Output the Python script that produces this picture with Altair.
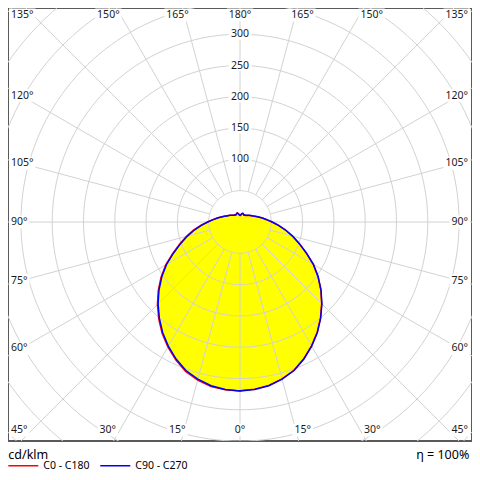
import math
import altair as alt
import pandas as pd

# ---------------- data (cd/klm) ----------------
gamma = list(range(0, 181, 5))          # 0 = straight down, 180 = straight up
c0 = [269.5, 268, 265, 259.5, 252, 241, 228.5, 215, 200, 184.5, 168.5, 152, 135,
      116.5, 100.5, 86.5, 73.5, 61.5, 51, 42.5, 36, 30.5, 26, 22.5, 20, 18, 16,
      14.5, 13.5, 13, 12.5, 13, 14, 14, 12.5, 10.5, 10]
c180 = [270, 269, 267, 261.5, 254, 243, 230.5, 217, 202, 186.5, 170.5, 154, 137,
        118.5, 102.5, 88.5, 75.5, 63, 52, 43.5, 37, 31.5, 27, 23.5, 21, 19, 17,
        15.5, 14.5, 14, 13.5, 14, 15, 15, 13.5, 11.5, 10]
c90 = [270, 268.5, 265.5, 260, 252.5, 241.5, 229, 215.5, 200.5, 185, 169, 152.5, 135.5,
       117, 101, 87, 74, 62, 51.5, 43, 36.5, 31, 26.5, 23, 20.5, 18.5, 16.5,
       15, 14, 13.5, 13, 13.5, 14.5, 14.5, 13, 11, 10]
c270 = [270, 268.5, 265.5, 260, 252.5, 241.5, 229, 215.5, 200.5, 185, 169, 152.5, 135.5,
        117, 101, 87, 74, 62, 51.5, 43, 36.5, 31, 26.5, 23, 20.5, 18.5, 16.5,
        15, 14, 13.5, 13, 13.5, 14.5, 14.5, 13, 11, 10]

series_names = ["C0 - C180", "C90 - C270"]
series_colors = ["#ff0000", "#0000ff"]
ring_labels = [100, 150, 200, 250, 300]
grid_rings = [50, 100, 150, 200, 250, 300, 350, 400, 450, 500]
spoke_angles = list(range(0, 360, 15))
label_gammas = [0, 15, 30, 45, 60, 75, 90, 105, 120, 135, 150, 165, 180]
unit_text = "cd/klm"
eta_text = "η = 100%"

# ---------------- layout ----------------
W, H = 464, 433            # plot area (frame)
PX0, PY0 = 8, 8            # page offset of plot area
CXP, CYP = 240, 222        # polar centre, page px
K = 0.626                  # px per cd/klm
CX, CY = CXP - PX0, CYP - PY0
XDOM = [-CX / K, (W - CX) / K]
YDOM = [-(H - CY) / K, CY / K]
FONT = "Noto Sans"
GRID = "#d2d2d2"

xs = alt.Scale(domain=XDOM, nice=False, zero=False)
ys = alt.Scale(domain=YDOM, nice=False, zero=False)
X = alt.X("x:Q", scale=xs, axis=None)
Y = alt.Y("y:Q", scale=ys, axis=None)

# curves
rows = []
for name, right, left in [(series_names[0], c0, c180), (series_names[1], c90, c270)]:
    idx = 0
    for g, r in reversed(list(zip(gamma, left))):
        rows.append({"series": name, "ang": -g, "r": r, "idx": idx}); idx += 1
    for g, r in zip(gamma, right):
        rows.append({"series": name, "ang": g, "r": r, "idx": idx}); idx += 1
curve_df = pd.DataFrame(rows)

# grid
ring_rows = []
for rv in grid_rings:
    for i, a in enumerate(range(0, 361, 2)):
        ring_rows.append({"ring": rv, "ang": a, "r": rv, "idx": i})
ring_df = pd.DataFrame(ring_rows)
spoke_rows = []
for a in spoke_angles:
    spoke_rows.append({"sp": a, "ang": a, "r": 50, "idx": 0})
    spoke_rows.append({"sp": a, "ang": a, "r": 800, "idx": 1})
spoke_df = pd.DataFrame(spoke_rows)

def polar(ch):
    return ch.transform_calculate(
        x="datum.r * sin(datum.ang * PI / 180)",
        y="-datum.r * cos(datum.ang * PI / 180)",
    )

def box_path(x0, x1, h):
    return f"M{x0:.1f},{-h:.1f}L{x1:.1f},{-h:.1f}L{x1:.1f},{h:.1f}L{x0:.1f},{h:.1f}Z"

def txt_w(t):
    return sum(6.0 if c.isdigit() else 4.5 for c in t)

# angle labels (positions follow the spokes, kept inside the frame)
lab = []
for g in label_gammas:
    sides = [0] if g in (0, 180) else [-1, 1]
    for s in sides:
        t = f"{g}°"
        w = txt_w(t)
        if g in (0, 180):
            px, py, al = CXP, (430 if g == 0 else 15), "center"
        elif g < 45 or g > 135:
            b = math.radians(g if g < 90 else 180 - g)
            dy = 208 if g < 90 else 207
            dx = dy * math.tan(b) + 14 * math.sin(2 * b)
            px, py, al = CXP + s * dx, (430 if g < 90 else 15), "center"
        else:
            if g == 45:
                py = 430
            elif g == 135:
                py = 15
            else:
                py = CYP + 219 / math.tan(math.radians(g))
            px, al = (11, "left") if s < 0 else (468, "right")
        if al == "center":
            bp = box_path(-w / 2 - 2, w / 2 + 2, 6.5)
        elif al == "left":
            bp = box_path(-2, w + 2, 6.5)
        else:
            bp = box_path(-w - 2, 2, 6.5)
        lab.append({"t": t, "x": (px - CXP) / K, "y": (CYP - py) / K, "al": al, "box": bp})
for v in ring_labels:
    lab.append({"t": str(v), "x": 0.0, "y": float(v), "al": "center",
                "box": box_path(-11.5, 11.5, 5.5)})
lab_df = pd.DataFrame(lab)

fill = polar(alt.Chart(curve_df)).mark_line(
    fill="#ffff00", strokeOpacity=0, strokeWidth=0
).encode(x=X, y=Y, detail="series:N", order="idx:Q")

rings = polar(alt.Chart(ring_df)).mark_line(
    color=GRID, strokeWidth=1, clip=True
).encode(x=X, y=Y, detail="ring:N", order="idx:Q")

spokes = polar(alt.Chart(spoke_df)).mark_line(
    color=GRID, strokeWidth=1, clip=True
).encode(x=X, y=Y, detail="sp:N", order="idx:Q")

boxes = alt.Chart(lab_df).mark_point(
    filled=True, color="white", opacity=1, size=4, strokeWidth=0
).encode(x=X, y=Y, shape=alt.Shape("box:N", scale=None))

def text_layer(al):
    return alt.Chart(lab_df).transform_filter(f"datum.al == '{al}'").mark_text(
        align=al, baseline="middle", font=FONT, fontSize=10.5, color="#1a1a1a"
    ).encode(x=X, y=Y, text="t:N")

lines = polar(alt.Chart(curve_df)).mark_line(strokeWidth=1.5).encode(
    x=X, y=Y, order="idx:Q",
    color=alt.Color(
        "series:N",
        scale=alt.Scale(domain=series_names, range=series_colors),
        legend=alt.Legend(
            orient="none", legendX=-0.7, legendY=441.5, direction="horizontal",
            title=None, symbolType="stroke", symbolSize=900, symbolStrokeWidth=1.5,
            labelFont=FONT, labelFontSize=10.5, labelColor="#000000", labelOffset=4,
            columnPadding=7, padding=0,
        ),
    ),
)

foot_df = pd.DataFrame({"t": [unit_text, eta_text], "al": ["left", "right"]})
unit = alt.Chart(foot_df).transform_filter("datum.al == 'left'").mark_text(
    align="left", baseline="alphabetic", font=FONT, fontSize=12.5, color="#000"
).encode(x=alt.value(0.3), y=alt.value(450.5), text="t:N")
eta = alt.Chart(foot_df).transform_filter("datum.al == 'right'").mark_text(
    align="right", baseline="alphabetic", font=FONT, fontSize=12.5, color="#000"
).encode(x=alt.value(461.3), y=alt.value(450.5), text="t:N")

chart = alt.layer(
    fill, rings, spokes, boxes,
    text_layer("center"), text_layer("left"), text_layer("right"),
    lines, unit, eta,
).properties(
    width=W, height=H,
    autosize=alt.AutoSizeParams(type="none"),
    padding={"left": 0, "top": 0, "right": 0, "bottom": 31},
).configure_view(stroke="#5a5a5a", strokeWidth=2, fill="white")

chart.save("out.html", embed_options={"renderer": "svg", "actions": False})
